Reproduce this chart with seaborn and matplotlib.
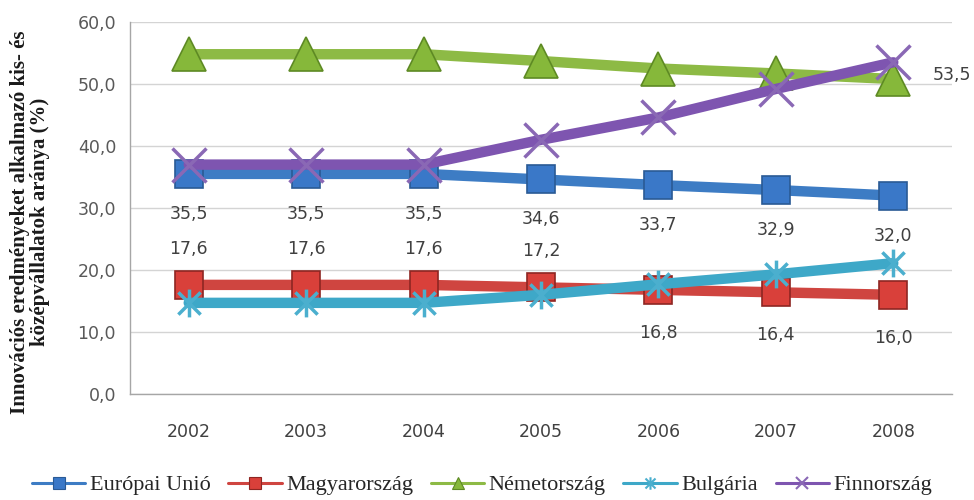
import matplotlib
matplotlib.use("Agg")
import matplotlib.pyplot as plt
from matplotlib.lines import Line2D
from matplotlib.path import Path
from matplotlib.ticker import FuncFormatter, MultipleLocator, FixedLocator
import seaborn as sns
import pandas as pd

# --- data -----------------------------------------------------------------
years = ["2002", "2003", "2004", "2005", "2006", "2007", "2008"]
europai_unio = [35.5, 35.5, 35.5, 34.6, 33.7, 32.9, 32.0]
magyarorszag = [17.6, 17.6, 17.6, 17.2, 16.8, 16.4, 16.0]
nemetorszag = [54.8, 54.8, 54.8, 53.7, 52.5, 51.7, 50.8]
bulgaria = [14.7, 14.7, 14.7, 16.0, 17.7, 19.3, 21.1]
finnorszag = [37.0, 37.0, 37.0, 41.0, 44.6, 49.2, 53.5]
series_names = ["Európai Unió", "Magyarország", "Németország", "Bulgária", "Finnország"]
y_label = "Innovációs eredményeket alkalmazó kis- és\nközépvállalatok aránya (%)"

values = [europai_unio, magyarorszag, nemetorszag, bulgaria, finnorszag]
frames = []
for name, vals in zip(series_names, values):
    frames.append(pd.DataFrame({"pos": range(len(years)), "year": years,
                                "value": vals, "series": name}))
df = pd.concat(frames, ignore_index=True)

# --- styling --------------------------------------------------------------
sns.set_theme(style="white")
plt.rcParams["font.family"] = ["DejaVu Sans"]
serif = "Liberation Serif"

# star marker: an X crossed by a vertical bar
star_path = Path([(-1, -1), (1, 1), (-1, 1), (1, -1), (0, -1.25), (0, 1.25)],
                 [Path.MOVETO, Path.LINETO, Path.MOVETO, Path.LINETO,
                  Path.MOVETO, Path.LINETO])

styles = {
    "Európai Unió": dict(color="#3D7CC4", marker="s", mfc="#3A78C8", mec="#2A5A95",
                         ms=20, mew=1.2),
    "Magyarország": dict(color="#CF4540", marker="s", mfc="#D9403A", mec="#8E2622",
                         ms=20, mew=1.2),
    "Németország": dict(color="#8DBA45", marker="^", mfc="#86B83A", mec="#5E8A24",
                        ms=25, mew=1.2),
    "Bulgária": dict(color="#3EA8C8", marker=star_path, mfc="none", mec="#4BAFCE",
                     ms=20, mew=2.5),
    "Finnország": dict(color="#7E55B0", marker="x", mfc="none", mec="#8A68B5",
                       ms=25, mew=2.5),
}

fig = plt.figure(figsize=(9.74, 5.0), dpi=100)
ax = fig.add_axes([130 / 974, 1 - 394 / 500, 822 / 974, 372 / 500])

for name in series_names:
    st = styles[name]
    sub = df[df["series"] == name]
    sns.lineplot(data=sub, x="pos", y="value", ax=ax, color=st["color"],
                 linewidth=7.5, marker=st["marker"], markersize=st["ms"],
                 markerfacecolor=st["mfc"], markeredgecolor=st["mec"],
                 markeredgewidth=st["mew"], sort=False, legend=False,
                 errorbar=None)

# axes
ax.set_xlim(-0.5, len(years) - 0.5)
ax.set_ylim(0, 60)
ax.yaxis.set_major_locator(MultipleLocator(10))
ax.yaxis.set_major_formatter(FuncFormatter(lambda v, _: f"{v:.1f}".replace(".", ",")))
ax.xaxis.set_major_locator(FixedLocator(range(len(years))))
ax.set_xticklabels(years)
ax.xaxis.set_minor_locator(FixedLocator([i - 0.5 for i in range(len(years) + 1)]))
ax.set_xlabel("")
ax.set_ylabel("")
ax.grid(axis="y", color="#D4D4D4", linewidth=1.0)
ax.set_axisbelow(True)
for side in ["top", "right"]:
    ax.spines[side].set_visible(False)
for side in ["left", "bottom"]:
    ax.spines[side].set_color("#A6A6A6")
    ax.spines[side].set_linewidth(1.0)
ax.tick_params(axis="x", which="major", length=0, pad=21, labelsize=12.5,
               labelcolor="#404040")
ax.tick_params(axis="x", which="minor", length=5, color="#A6A6A6", width=1,
               direction="out")
ax.tick_params(axis="y", length=5, color="#A6A6A6", width=1, direction="out",
               labelsize=12.5, labelcolor="#595959", pad=5)

# data labels
def fmt(v):
    return f"{v:.1f}".replace(".", ",")

lab_kw = dict(textcoords="offset pixels", fontsize=12.5, color="#404040",
              ha="center", va="center")
for i, v in enumerate(europai_unio):
    ax.annotate(fmt(v), (i, v), xytext=(0, -40), **lab_kw)
for i, v in enumerate(magyarorszag):
    off = 36 if i < 4 else -43
    ax.annotate(fmt(v), (i, v), xytext=(0, off), **lab_kw)
last = len(years) - 1
ax.annotate(fmt(finnorszag[last]), (last, finnorszag[last]), xytext=(39, -13),
            **{**lab_kw, "ha": "left"})

# y axis title
fig.text(30 / 974, 1 - 222 / 500, y_label, rotation=90, ha="center", va="center",
         multialignment="center", family=serif, fontweight="bold", fontsize=15,
         color="#1A1A1A", linespacing=1.05)

# legend
handles = []
for name in series_names:
    st = styles[name]
    handles.append(Line2D([0], [0], color=st["color"], linewidth=2.2,
                          marker=st["marker"], markersize=9,
                          markerfacecolor=st["mfc"], markeredgecolor=st["mec"],
                          markeredgewidth=1.5 if st["mfc"] == "none" else 0.8))
fig.legend(handles, series_names, loc="center", bbox_to_anchor=(0.495, 1 - 485 / 500),
           ncol=5, frameon=False, prop={"family": serif, "size": 16},
           handlelength=2.4, columnspacing=0.8, handletextpad=0.2,
           labelcolor="#262626")

fig.savefig("out.png", dpi=100)
